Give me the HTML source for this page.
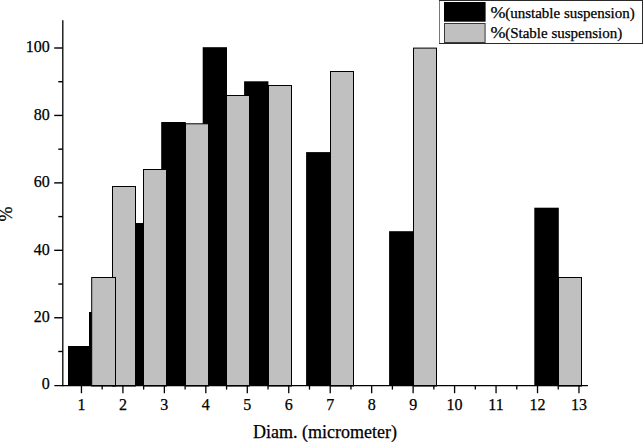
<!DOCTYPE html><html><head><meta charset="utf-8"><style>html,body{margin:0;padding:0;background:#fff;overflow:hidden;}svg{display:block}text{font-family:"Liberation Serif",serif;fill:#000;stroke:#000;stroke-width:0.25px}</style></head><body>
<svg width="643" height="442" viewBox="0 0 643 442">
<rect width="643" height="442" fill="#fff"/>
<rect x="68" y="346" width="24" height="40.0" fill="#000"/>
<rect x="89" y="312" width="24" height="74.0" fill="#000"/>
<rect x="120" y="223" width="24" height="163.0" fill="#000"/>
<rect x="161.2" y="122" width="24.6" height="264.0" fill="#000"/>
<rect x="202.7" y="47.2" width="24.3" height="338.8" fill="#000"/>
<rect x="244.1" y="81.3" width="24.3" height="304.7" fill="#000"/>
<rect x="306.1" y="152.1" width="23.9" height="233.9" fill="#000"/>
<rect x="389.1" y="231.2" width="23.9" height="154.8" fill="#000"/>
<rect x="534.3" y="207.7" width="24.5" height="178.3" fill="#000"/>
<rect x="112.5" y="186.5" width="23" height="199.5" fill="#c0c0c0" stroke="#000" stroke-width="1"/>
<rect x="91.7" y="277.5" width="23.8" height="108.5" fill="#c0c0c0" stroke="#000" stroke-width="1"/>
<rect x="143.5" y="169.5" width="23" height="216.5" fill="#c0c0c0" stroke="#000" stroke-width="1"/>
<rect x="185.5" y="123.8" width="23" height="262.2" fill="#c0c0c0" stroke="#000" stroke-width="1"/>
<rect x="226.5" y="95.5" width="23" height="290.5" fill="#c0c0c0" stroke="#000" stroke-width="1"/>
<rect x="268.5" y="85.5" width="23" height="300.5" fill="#c0c0c0" stroke="#000" stroke-width="1"/>
<rect x="330.5" y="71.5" width="23" height="314.5" fill="#c0c0c0" stroke="#000" stroke-width="1"/>
<rect x="413.5" y="48.1" width="23" height="337.9" fill="#c0c0c0" stroke="#000" stroke-width="1"/>
<rect x="558.5" y="277.5" width="23" height="108.5" fill="#c0c0c0" stroke="#000" stroke-width="1"/>
<line x1="62.8" y1="20.3" x2="62.8" y2="386.2" stroke="#000" stroke-width="1.3"/>
<line x1="54.4" y1="385.6" x2="587.9" y2="385.6" stroke="#000" stroke-width="1.3"/>
<text x="49.8" y="389.40" font-size="16" text-anchor="end">0</text>
<line x1="58.3" y1="351.48" x2="62.8" y2="351.48" stroke="#000" stroke-width="1.4"/>
<line x1="54.2" y1="317.76" x2="62.8" y2="317.76" stroke="#000" stroke-width="1.4"/>
<text x="49.8" y="321.96" font-size="16" text-anchor="end">20</text>
<line x1="58.3" y1="284.04" x2="62.8" y2="284.04" stroke="#000" stroke-width="1.4"/>
<line x1="54.2" y1="250.32" x2="62.8" y2="250.32" stroke="#000" stroke-width="1.4"/>
<text x="49.8" y="254.52" font-size="16" text-anchor="end">40</text>
<line x1="58.3" y1="216.60" x2="62.8" y2="216.60" stroke="#000" stroke-width="1.4"/>
<line x1="54.2" y1="182.88" x2="62.8" y2="182.88" stroke="#000" stroke-width="1.4"/>
<text x="49.8" y="187.08" font-size="16" text-anchor="end">60</text>
<line x1="58.3" y1="149.16" x2="62.8" y2="149.16" stroke="#000" stroke-width="1.4"/>
<line x1="54.2" y1="115.44" x2="62.8" y2="115.44" stroke="#000" stroke-width="1.4"/>
<text x="49.8" y="119.64" font-size="16" text-anchor="end">80</text>
<line x1="58.3" y1="81.72" x2="62.8" y2="81.72" stroke="#000" stroke-width="1.4"/>
<line x1="54.2" y1="48.00" x2="62.8" y2="48.00" stroke="#000" stroke-width="1.4"/>
<text x="49.8" y="52.20" font-size="16" text-anchor="end">100</text>
<line x1="81.45" y1="385" x2="81.45" y2="393.2" stroke="#000" stroke-width="1.3"/>
<text x="81.45" y="409.8" font-size="16" text-anchor="middle">1</text>
<line x1="102.18" y1="385" x2="102.18" y2="389.6" stroke="#000" stroke-width="1.3"/>
<line x1="122.91" y1="385" x2="122.91" y2="393.2" stroke="#000" stroke-width="1.3"/>
<text x="122.91" y="409.8" font-size="16" text-anchor="middle">2</text>
<line x1="143.64" y1="385" x2="143.64" y2="389.6" stroke="#000" stroke-width="1.3"/>
<line x1="164.37" y1="385" x2="164.37" y2="393.2" stroke="#000" stroke-width="1.3"/>
<text x="164.37" y="409.8" font-size="16" text-anchor="middle">3</text>
<line x1="185.10" y1="385" x2="185.10" y2="389.6" stroke="#000" stroke-width="1.3"/>
<line x1="205.83" y1="385" x2="205.83" y2="393.2" stroke="#000" stroke-width="1.3"/>
<text x="205.83" y="409.8" font-size="16" text-anchor="middle">4</text>
<line x1="226.56" y1="385" x2="226.56" y2="389.6" stroke="#000" stroke-width="1.3"/>
<line x1="247.29" y1="385" x2="247.29" y2="393.2" stroke="#000" stroke-width="1.3"/>
<text x="247.29" y="409.8" font-size="16" text-anchor="middle">5</text>
<line x1="268.02" y1="385" x2="268.02" y2="389.6" stroke="#000" stroke-width="1.3"/>
<line x1="288.75" y1="385" x2="288.75" y2="393.2" stroke="#000" stroke-width="1.3"/>
<text x="288.75" y="409.8" font-size="16" text-anchor="middle">6</text>
<line x1="309.48" y1="385" x2="309.48" y2="389.6" stroke="#000" stroke-width="1.3"/>
<line x1="330.21" y1="385" x2="330.21" y2="393.2" stroke="#000" stroke-width="1.3"/>
<text x="330.21" y="409.8" font-size="16" text-anchor="middle">7</text>
<line x1="350.94" y1="385" x2="350.94" y2="389.6" stroke="#000" stroke-width="1.3"/>
<line x1="371.67" y1="385" x2="371.67" y2="393.2" stroke="#000" stroke-width="1.3"/>
<text x="371.67" y="409.8" font-size="16" text-anchor="middle">8</text>
<line x1="392.40" y1="385" x2="392.40" y2="389.6" stroke="#000" stroke-width="1.3"/>
<line x1="413.13" y1="385" x2="413.13" y2="393.2" stroke="#000" stroke-width="1.3"/>
<text x="413.13" y="409.8" font-size="16" text-anchor="middle">9</text>
<line x1="433.86" y1="385" x2="433.86" y2="389.6" stroke="#000" stroke-width="1.3"/>
<line x1="454.59" y1="385" x2="454.59" y2="393.2" stroke="#000" stroke-width="1.3"/>
<text x="454.59" y="409.8" font-size="16" text-anchor="middle">10</text>
<line x1="475.32" y1="385" x2="475.32" y2="389.6" stroke="#000" stroke-width="1.3"/>
<line x1="496.05" y1="385" x2="496.05" y2="393.2" stroke="#000" stroke-width="1.3"/>
<text x="496.05" y="409.8" font-size="16" text-anchor="middle">11</text>
<line x1="516.78" y1="385" x2="516.78" y2="389.6" stroke="#000" stroke-width="1.3"/>
<line x1="537.51" y1="385" x2="537.51" y2="393.2" stroke="#000" stroke-width="1.3"/>
<text x="537.51" y="409.8" font-size="16" text-anchor="middle">12</text>
<line x1="558.24" y1="385" x2="558.24" y2="389.6" stroke="#000" stroke-width="1.3"/>
<line x1="578.97" y1="385" x2="578.97" y2="393.2" stroke="#000" stroke-width="1.3"/>
<text x="578.97" y="409.8" font-size="16" text-anchor="middle">13</text>
<text x="325" y="438.1" font-size="18" text-anchor="middle">Diam. (micrometer)</text>
<text transform="translate(12.2,214) rotate(-90)" font-size="18" text-anchor="middle">%</text>
<rect x="439.5" y="0.5" width="203" height="43" fill="#fff" stroke="#2a2a2a" stroke-width="1"/>
<rect x="439" y="1" width="1" height="42" fill="#777"/>
<rect x="444" y="2" width="41.6" height="19.7" fill="#000"/>
<rect x="444.5" y="23.5" width="40.6" height="19" fill="#c0c0c0" stroke="#3a3a3a" stroke-width="1"/>
<text x="490.4" y="17.7" font-size="16" textLength="15" lengthAdjust="spacingAndGlyphs">%</text>
<text x="505.2" y="17.7" font-size="15">(unstable suspension)</text>
<text x="490.4" y="37.9" font-size="16" textLength="15" lengthAdjust="spacingAndGlyphs">%</text>
<text x="505.2" y="37.9" font-size="15">(Stable suspension)</text>
</svg></body></html>
